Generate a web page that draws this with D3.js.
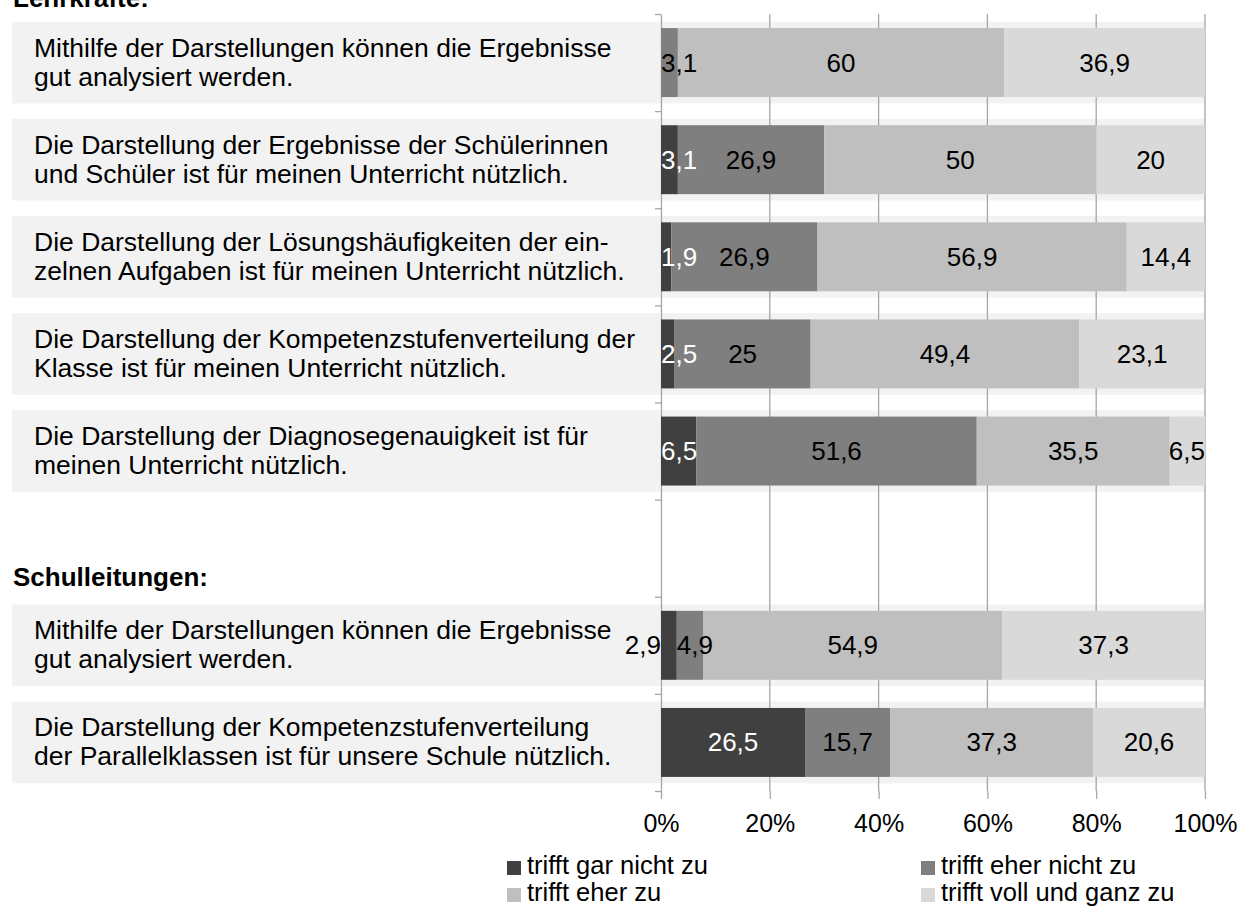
<!DOCTYPE html>
<html>
  <head>
    <meta charset="utf-8">
    <title>Bewertung der Darstellungen</title>
    <script src="https://d3js.org/d3.v7.min.js"></script>
    <style>
      body { margin: 0; background: #fff; }
      svg text { font-family: "Liberation Sans", Arial, sans-serif; }
    </style>
  </head>
  <body>
    <script>
      // rows of the chart, index 5 is the empty gap between the two groups
      var labelLines = [
        ["Mithilfe der Darstellungen können die Ergebnisse", "gut analysiert werden."],
        ["Die Darstellung der Ergebnisse der Schülerinnen", "und Schüler ist für meinen Unterricht nützlich."],
        ["Die Darstellung der Lösungshäufigkeiten der ein-", "zelnen Aufgaben ist für meinen Unterricht nützlich."],
        ["Die Darstellung der Kompetenzstufenverteilung der", "Klasse ist für meinen Unterricht nützlich."],
        ["Die Darstellung der Diagnosegenauigkeit ist für", "meinen Unterricht nützlich."],
        null,
        ["Mithilfe der Darstellungen können die Ergebnisse", "gut analysiert werden."],
        ["Die Darstellung der Kompetenzstufenverteilung", "der Parallelklassen ist für unsere Schule nützlich."]
      ];
      var groupTitles = ["Lehrkräfte:", "Schulleitungen:"];

      var seriesNames = ["trifft gar nicht zu", "trifft eher nicht zu", "trifft eher zu", "trifft voll und ganz zu"];
      var garNicht  = [0,    3.1,  1.9,  2.5,  6.5,  null, 2.9,  26.5];
      var eherNicht = [3.1,  26.9, 26.9, 25,   51.6, null, 4.9,  15.7];
      var eherZu    = [60,   50,   56.9, 49.4, 35.5, null, 54.9, 37.3];
      var vollZu    = [36.9, 20,   14.4, 23.1, 6.5,  null, 37.3, 20.6];
      var axisTicks = [0, 20, 40, 60, 80, 100];

      var colors = ["#404040", "#7f7f7f", "#bfbfbf", "#d9d9d9"];
      var textColors = ["#fff", "#000", "#000", "#000"];

      var width = 1240, height = 908;
      var svg = d3.select("body").append("svg")
        .attr("width", width)
        .attr("height", height);

      var x = d3.scaleLinear().domain([0, 100]).range([661, 1205]);
      var rows = d3.range(labelLines.length);
      var y = d3.scaleBand().domain(rows).range([14, 791])
        .paddingInner(0.29).paddingOuter(0.145);
      var yBox = d3.scaleBand().domain(rows).range([14, 791])
        .paddingInner(0.16).paddingOuter(0.08);
      var yEdge = d3.scaleLinear().domain([0, rows.length]).range([14, 791]);

      var series = [garNicht, eherNicht, eherZu, vollZu];

      // grey label boxes, running behind the plot
      var filled = rows.filter(function(i) { return labelLines[i]; });
      svg.selectAll("rect.box").data(filled).enter().append("rect")
        .attr("class", "box")
        .attr("x", 12)
        .attr("y", function(i) { return yBox(i); })
        .attr("width", x(100) - 12)
        .attr("height", yBox.bandwidth())
        .attr("fill", "#f2f2f2");

      // gridlines
      svg.selectAll("line.grid").data(axisTicks.slice(1)).enter().append("line")
        .attr("class", "grid")
        .attr("x1", function(d) { return x(d); })
        .attr("x2", function(d) { return x(d); })
        .attr("y1", 14).attr("y2", 791)
        .attr("stroke", "#a6a6a6").attr("stroke-width", 1.3);

      // x axis
      var xAxis = svg.append("g")
        .attr("transform", "translate(0,791)")
        .call(d3.axisBottom(x).tickValues(axisTicks)
          .tickFormat(function(d) { return d + "%"; })
          .tickSize(8).tickPadding(15));
      xAxis.select(".domain").remove();
      xAxis.selectAll("line").attr("stroke", "#a6a6a6").attr("stroke-width", 1.3);
      xAxis.selectAll("text").attr("font-size", 25).attr("fill", "#000")
        .style("font-family", '"Liberation Sans", Arial, sans-serif');

      // category axis
      var yAxis = svg.append("g")
        .attr("transform", "translate(661,0)")
        .call(d3.axisLeft(yEdge).tickValues(d3.range(rows.length + 1))
          .tickFormat("").tickSize(6).tickSizeOuter(0));
      yAxis.select(".domain").attr("stroke", "#a6a6a6").attr("stroke-width", 1.3);
      yAxis.selectAll("line").attr("stroke", "#a6a6a6").attr("stroke-width", 1.3);

      // stacked bars
      var stacked = [];
      rows.forEach(function(i) {
        if (garNicht[i] == null) return;
        var total = 0;
        series.forEach(function(s) { total += s[i]; });
        var acc = 0;
        series.forEach(function(s, k) {
          var v = s[i];
          stacked.push({row: i, k: k, value: v, x0: acc / total * 100, x1: (acc + v) / total * 100});
          acc += v;
        });
      });

      svg.selectAll("rect.bar").data(stacked.filter(function(d) { return d.value > 0; }))
        .enter().append("rect")
        .attr("class", "bar")
        .attr("x", function(d) { return x(d.x0); })
        .attr("y", function(d) { return y(d.row); })
        .attr("width", function(d) { return x(d.x1) - x(d.x0); })
        .attr("height", y.bandwidth())
        .attr("fill", function(d) { return colors[d.k]; });

      // hand-placed labels in the Schulleitungen row (as in the original)
      var labelAnchor = {"6-0": "end-axis", "6-1": "start-seg"};

      svg.selectAll("text.value").data(stacked.filter(function(d) { return d.value > 0; }))
        .enter().append("text")
        .attr("class", "value")
        .attr("font-size", 26)
        .attr("fill", function(d) { return labelAnchor[d.row + "-" + d.k] == "end-axis" ? "#000" : textColors[d.k]; })
        .attr("y", function(d) { return y(d.row) + y.bandwidth() / 2 + 9; })
        .text(function(d) { return String(d.value).replace(".", ","); })
        .each(function(d) {
          var el = d3.select(this);
          var w = this.getComputedTextLength();
          var mode = labelAnchor[d.row + "-" + d.k];
          var left;
          if (mode == "end-axis") {
            left = x(0) - w;
          } else if (mode == "start-seg") {
            left = x(d.x0);
          } else {
            var cx = (x(d.x0) + x(d.x1)) / 2;
            left = Math.max(x(0), Math.min(x(100) - w, cx - w / 2));
          }
          el.attr("x", left);
        });

      // category labels
      filled.forEach(function(i) {
        var c = yBox(i) + yBox.bandwidth() / 2;
        var t = svg.append("text").attr("font-size", 26.5).attr("fill", "#000");
        labelLines[i].forEach(function(line, j) {
          t.append("tspan").attr("x", 34).attr("y", c - 6 + j * 29).text(line);
        });
      });

      // group titles
      svg.append("text").attr("x", 13).attr("y", 7)
        .attr("font-size", 26).attr("font-weight", "bold").text(groupTitles[0]);
      svg.append("text").attr("x", 13).attr("y", 586)
        .attr("font-size", 26).attr("font-weight", "bold").text(groupTitles[1]);

      // legend
      var legendPos = [[507, 874], [921, 874], [507, 901], [921, 901]];
      var legend = svg.selectAll("g.legend").data(seriesNames).enter().append("g")
        .attr("class", "legend")
        .attr("transform", function(d, k) { return "translate(" + legendPos[k][0] + "," + legendPos[k][1] + ")"; });
      legend.append("rect")
        .attr("x", 0).attr("y", -13).attr("width", 14).attr("height", 14)
        .attr("fill", function(d, k) { return colors[k]; });
      legend.append("text")
        .attr("x", 20).attr("y", 0).attr("font-size", 25.5).attr("fill", "#000")
        .text(function(d) { return d; });
    </script>
  </body>
</html>
